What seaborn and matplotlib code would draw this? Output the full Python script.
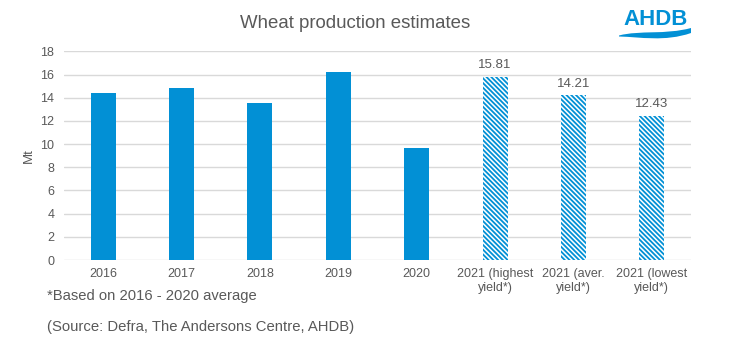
import matplotlib
matplotlib.use("Agg")
import matplotlib.pyplot as plt
import seaborn as sns
import pandas as pd
from matplotlib.path import Path
from matplotlib.patches import PathPatch

categories = ["2016", "2017", "2018", "2019", "2020",
              "2021 (highest\nyield*)", "2021 (aver.\nyield*)", "2021 (lowest\nyield*)"]
production = [14.38, 14.84, 13.56, 16.23, 9.66, 15.81, 14.21, 12.43]
estimate = [False, False, False, False, False, True, True, True]
yticks = [0, 2, 4, 6, 8, 10, 12, 14, 16, 18]

BLUE = "#0290D5"
GREY_TXT = "#595959"
GRID = "#D9D9D9"

sns.set_theme(style="white")
plt.rcParams["font.family"] = ["Liberation Sans", "DejaVu Sans"]
plt.rcParams["hatch.linewidth"] = 1.3

df = pd.DataFrame({"cat": categories, "val": production})

fig = plt.figure(figsize=(7.33, 3.54), dpi=100)
ax = fig.add_axes([0.0873, 0.2655, 0.8554, 0.5895])

sns.barplot(data=df, x="cat", y="val", color=BLUE, saturation=1, width=0.32, ax=ax, zorder=3)

bars = ax.containers[0]
for patch, est in zip(bars.patches, estimate):
    if est:
        patch.set_facecolor("white")
        patch.set_edgecolor(BLUE)
        patch.set_hatch("\\" * 7)
    patch.set_linewidth(0)

labels = [f"{v:.2f}" if e else "" for v, e in zip(production, estimate)]
ax.bar_label(bars, labels=labels, padding=4, fontsize=9.5, color=GREY_TXT)

ax.set_ylim(0, 18)
ax.set_yticks(yticks)
ax.set_xlim(-0.5, len(categories) - 0.5)
ax.yaxis.grid(True, color=GRID, linewidth=1)
ax.set_axisbelow(True)
for s in ax.spines.values():
    s.set_visible(False)
ax.tick_params(axis="both", length=0, labelsize=9, colors=GREY_TXT, pad=6)
ax.tick_params(axis="y", pad=7)
ax.set_xlabel("")
ax.set_ylabel("Mt", fontsize=9.5, color=GREY_TXT, labelpad=4)

fig.text(0.484, 0.935, "Wheat production estimates", ha="center", va="center",
         fontsize=13.4, color=GREY_TXT)
fig.text(0.064, 0.163, "*Based on 2016 - 2020 average", ha="left", va="center",
         fontsize=10.6, color=GREY_TXT)
fig.text(0.064, 0.075, "(Source: Defra, The Andersons Centre, AHDB)", ha="left", va="center",
         fontsize=10.7, color=GREY_TXT)

# AHDB logo
fig.text(0.894, 0.946, "AHDB", ha="center", va="center", fontsize=16, fontweight="bold",
         color=BLUE)
W, H = 733.0, 354.0
def fp(x, y):
    return (x / W, 1 - y / H)
verts = [fp(619, 35.5), fp(640, 30), fp(665, 35), fp(691, 28),
         fp(691, 33), fp(665, 42), fp(640, 37), fp(619, 36.5), fp(619, 35.5)]
codes = [Path.MOVETO, Path.CURVE4, Path.CURVE4, Path.CURVE4,
         Path.LINETO, Path.CURVE4, Path.CURVE4, Path.CURVE4, Path.CLOSEPOLY]
fig.add_artist(PathPatch(Path(verts, codes), transform=fig.transFigure,
                         facecolor=BLUE, edgecolor="none"))

fig.savefig("out.png", dpi=100, facecolor="white")
